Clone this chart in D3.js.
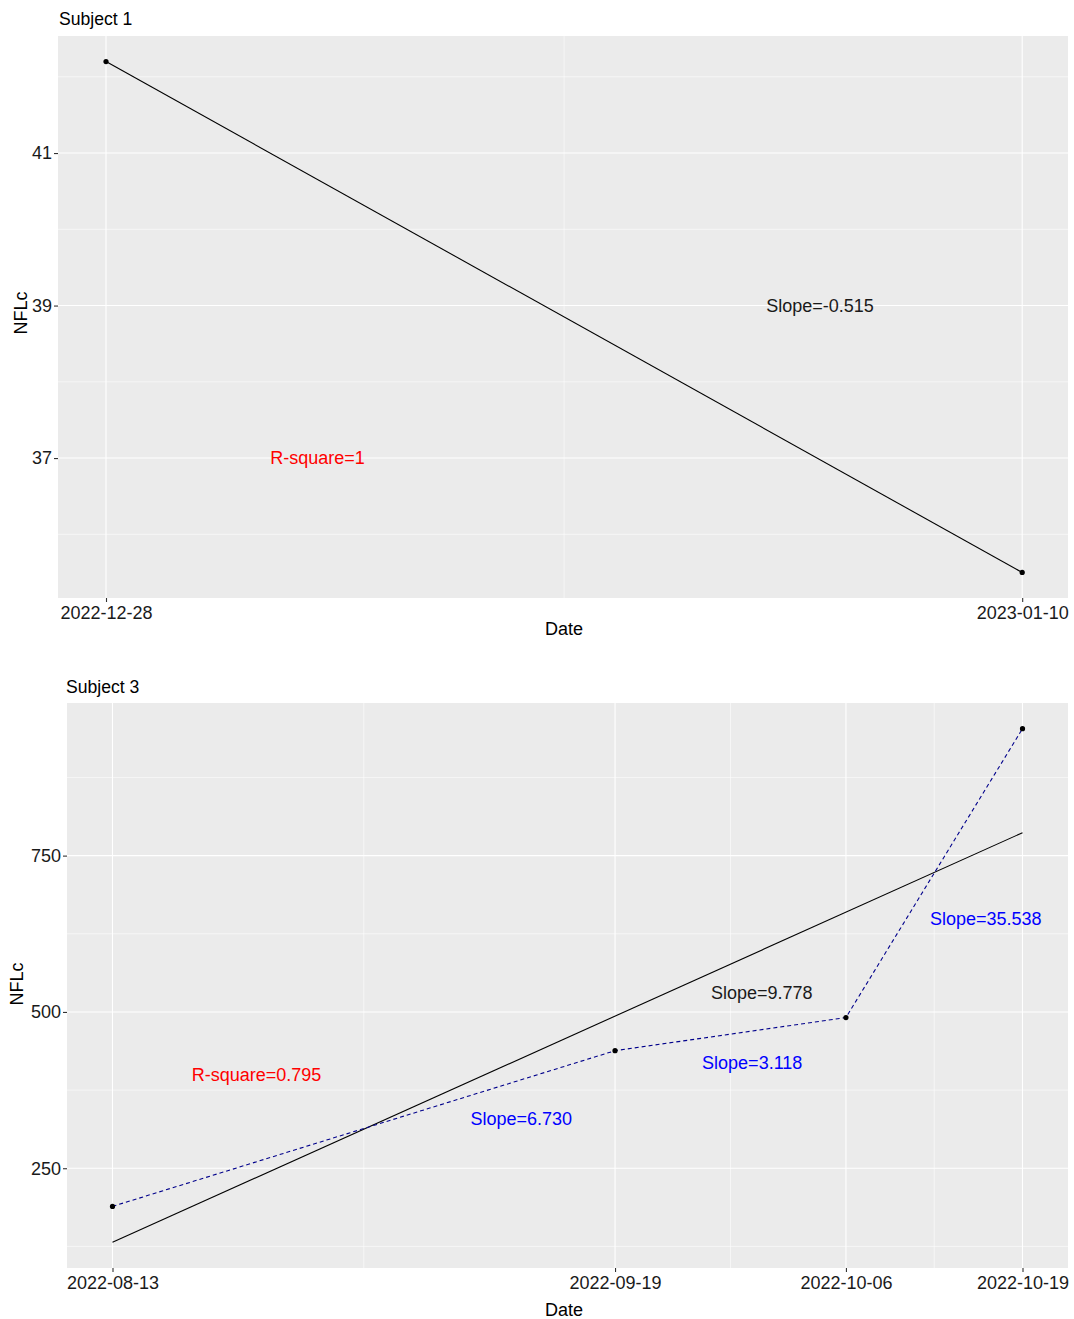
<!DOCTYPE html>
<html>
<head>
<meta charset="utf-8">
<script src="https://cdn.jsdelivr.net/npm/d3@7"></script>
<style>
  html, body { margin: 0; padding: 0; background: #fff; }
  svg { display: block; font-family: "Liberation Sans", Arial, Helvetica, sans-serif; }
</style>
</head>
<body>
<svg id="chart" width="1074" height="1319"></svg>
<script>
// ---------- data ----------
const subject1Dates  = ["2022-12-28", "2023-01-10"];
const subject1Values = [42.2, 35.5];
const subject1YTicks = [37, 39, 41];

const subject3Dates  = ["2022-08-13", "2022-09-19", "2022-10-06", "2022-10-19"];
const subject3Values = [189, 438, 491, 953];
const subject3YTicks = [250, 500, 750];

// annotation anchors in data space: [date, days offset, value]
const subject1SlopeAt = ["2022-12-28", 10.13, 39];
const subject1RsqAt   = ["2022-12-28", 3.0, 37];
const subject3SlopeAt = ["2022-08-13", 47.8, 530];
const subject3RsqAt   = ["2022-08-13", 10.6, 399.5];
const subject3SegLabelAt = [
  ["2022-08-13", 30.1, 330],
  ["2022-08-13", 47.1, 418.6],
  ["2022-08-13", 64.3, 649.5]
];

// ---------- helpers ----------
const parse = d3.utcParse("%Y-%m-%d");
const fmtDate = d3.utcFormat("%Y-%m-%d");
const DAY = 86400000;
const svg = d3.select("#chart");
const FONT = 18;
const TXT = "#1a1a1a";
const fmt3 = v => v.toFixed(3);

function fit(dates, vals) {
  const t = dates.map(d => (d - dates[0]) / DAY);
  const mt = d3.mean(t), my = d3.mean(vals);
  let sxx = 0, sxy = 0, syy = 0;
  t.forEach((ti, i) => { sxx += (ti - mt) ** 2; sxy += (ti - mt) * (vals[i] - my); syy += (vals[i] - my) ** 2; });
  const slope = sxy / sxx;
  const icpt = my - slope * mt;
  const r2 = (sxy * sxy) / (sxx * syy);
  return { slope, icpt, r2, at: d => icpt + slope * ((d - dates[0]) / DAY) };
}

function panel(opt) {
  const dates = opt.dates.map(parse);
  const vals = opt.values;
  const f = fit(dates, vals);
  const first = dates[0], last = dates[dates.length - 1];
  const lineVals = [f.at(first), f.at(last)];
  const allY = vals.concat(lineVals);
  const yMin = d3.min(allY), yMax = d3.max(allY), yPad = (yMax - yMin) * 0.05;
  const xPad = (last - first) * 0.05;

  const x = d3.scaleUtc().domain([new Date(+first - xPad), new Date(+last + xPad)])
    .range([opt.scaleLeft ?? opt.left, opt.right]);
  const y = d3.scaleLinear().domain([yMin - yPad, yMax + yPad]).range([opt.bottom, opt.top]);

  const g = svg.append("g");
  g.append("rect").attr("x", opt.left).attr("y", opt.top)
    .attr("width", opt.right - opt.left).attr("height", opt.bottom - opt.top)
    .attr("fill", "#EBEBEB");

  // minor gridlines
  const step = opt.yTicks[1] - opt.yTicks[0];
  const yMinor = [];
  for (let v = opt.yTicks[0] - step / 2; v <= y.domain()[1]; v += step) if (v >= y.domain()[0]) yMinor.push(v);
  g.selectAll(".ymin").data(yMinor).join("line")
    .attr("x1", opt.left).attr("x2", opt.right)
    .attr("y1", d => y(d)).attr("y2", d => y(d))
    .attr("stroke", "#fff").attr("stroke-width", 0.55);
  const xMinor = d3.pairs(dates).map(([a, b]) => new Date((+a + +b) / 2));
  g.selectAll(".xmin").data(xMinor).join("line")
    .attr("x1", d => x(d)).attr("x2", d => x(d))
    .attr("y1", opt.top).attr("y2", opt.bottom)
    .attr("stroke", "#fff").attr("stroke-width", 0.55);
  // major gridlines
  g.selectAll(".ymaj").data(opt.yTicks).join("line")
    .attr("x1", opt.left).attr("x2", opt.right)
    .attr("y1", d => y(d)).attr("y2", d => y(d))
    .attr("stroke", "#fff").attr("stroke-width", 1.1);
  g.selectAll(".xmaj").data(dates).join("line")
    .attr("x1", d => x(d)).attr("x2", d => x(d))
    .attr("y1", opt.top).attr("y2", opt.bottom)
    .attr("stroke", "#fff").attr("stroke-width", 1.1);

  // axes
  const xAxis = d3.axisBottom(x).tickValues(dates).tickFormat(fmtDate).tickSize(4).tickPadding(4);
  const ax = g.append("g").attr("transform", `translate(0,${opt.bottom})`).call(xAxis);
  const yAxis = d3.axisLeft(y).tickValues(opt.yTicks).tickSize(4).tickPadding(2);
  const ay = g.append("g").attr("transform", `translate(${opt.left},0)`).call(yAxis);
  [ax, ay].forEach(a => {
    a.select(".domain").remove();
    a.selectAll(".tick line").attr("stroke", "#333").attr("stroke-width", 1.1);
    a.selectAll(".tick text").attr("fill", TXT).attr("font-size", FONT)
      .attr("font-family", "Liberation Sans, Arial, sans-serif");
  });

  // regression line
  g.append("line")
    .attr("x1", x(first)).attr("y1", y(lineVals[0]))
    .attr("x2", x(last)).attr("y2", y(lineVals[1]))
    .attr("stroke", "#000").attr("stroke-width", 1.1);

  // dashed segments (only for >2 points)
  if (dates.length > 2) {
    const line = d3.line().x((d, i) => x(dates[i])).y(d => y(d));
    g.append("path").attr("d", line(vals))
      .attr("fill", "none").attr("stroke", "#00008B")
      .attr("stroke-width", 1.1).attr("stroke-dasharray", "4,3");
  }

  // points
  g.selectAll(".pt").data(vals).join("circle")
    .attr("cx", (d, i) => x(dates[i])).attr("cy", d => y(d))
    .attr("r", 2.6).attr("fill", "#000");

  const pos = a => [x(new Date(+parse(a[0]) + a[1] * DAY)), y(a[2])];
  function label(at, text, color) {
    const [px, py] = pos(at);
    g.append("text").attr("x", px).attr("y", py).attr("dy", "0.35em")
      .attr("text-anchor", "middle").attr("font-size", FONT)
      .attr("fill", color).text(text);
  }
  label(opt.slopeAt, "Slope=" + fmt3(f.slope), TXT);
  label(opt.rsqAt, "R-square=" + (+f.r2.toFixed(3)), "#FF0000");
  if (opt.segAt) {
    d3.pairs(dates.map((d, i) => [d, vals[i]])).forEach(([a, b], i) => {
      const s = (b[1] - a[1]) / ((b[0] - a[0]) / DAY);
      label(opt.segAt[i], "Slope=" + fmt3(s), "#0000FF");
    });
  }

  // titles
  svg.append("text").attr("x", opt.titleX).attr("y", opt.titleY)
    .attr("font-size", 17.6).attr("fill", "#000").text(opt.title);
  svg.append("text").attr("x", 564).attr("y", opt.xTitleY)
    .attr("text-anchor", "middle").attr("font-size", FONT).attr("fill", "#000").text("Date");
  svg.append("text")
    .attr("transform", `translate(${opt.yTitleX},${opt.yTitleY}) rotate(-90)`)
    .attr("text-anchor", "middle").attr("font-size", FONT).attr("fill", "#000").text("NFLc");
}

panel({
  dates: subject1Dates, values: subject1Values, yTicks: subject1YTicks,
  left: 58, scaleLeft: 60.2, right: 1068, top: 36, bottom: 598,
  slopeAt: subject1SlopeAt, rsqAt: subject1RsqAt,
  title: "Subject 1", titleX: 59, titleY: 25,
  xTitleY: 635, yTitleX: 27, yTitleY: 313
});
panel({
  dates: subject3Dates, values: subject3Values, yTicks: subject3YTicks,
  left: 67, right: 1068, top: 703, bottom: 1268,
  slopeAt: subject3SlopeAt, rsqAt: subject3RsqAt, segAt: subject3SegLabelAt,
  title: "Subject 3", titleX: 66, titleY: 693,
  xTitleY: 1316, yTitleX: 23, yTitleY: 984
});
</script>
</body>
</html>
